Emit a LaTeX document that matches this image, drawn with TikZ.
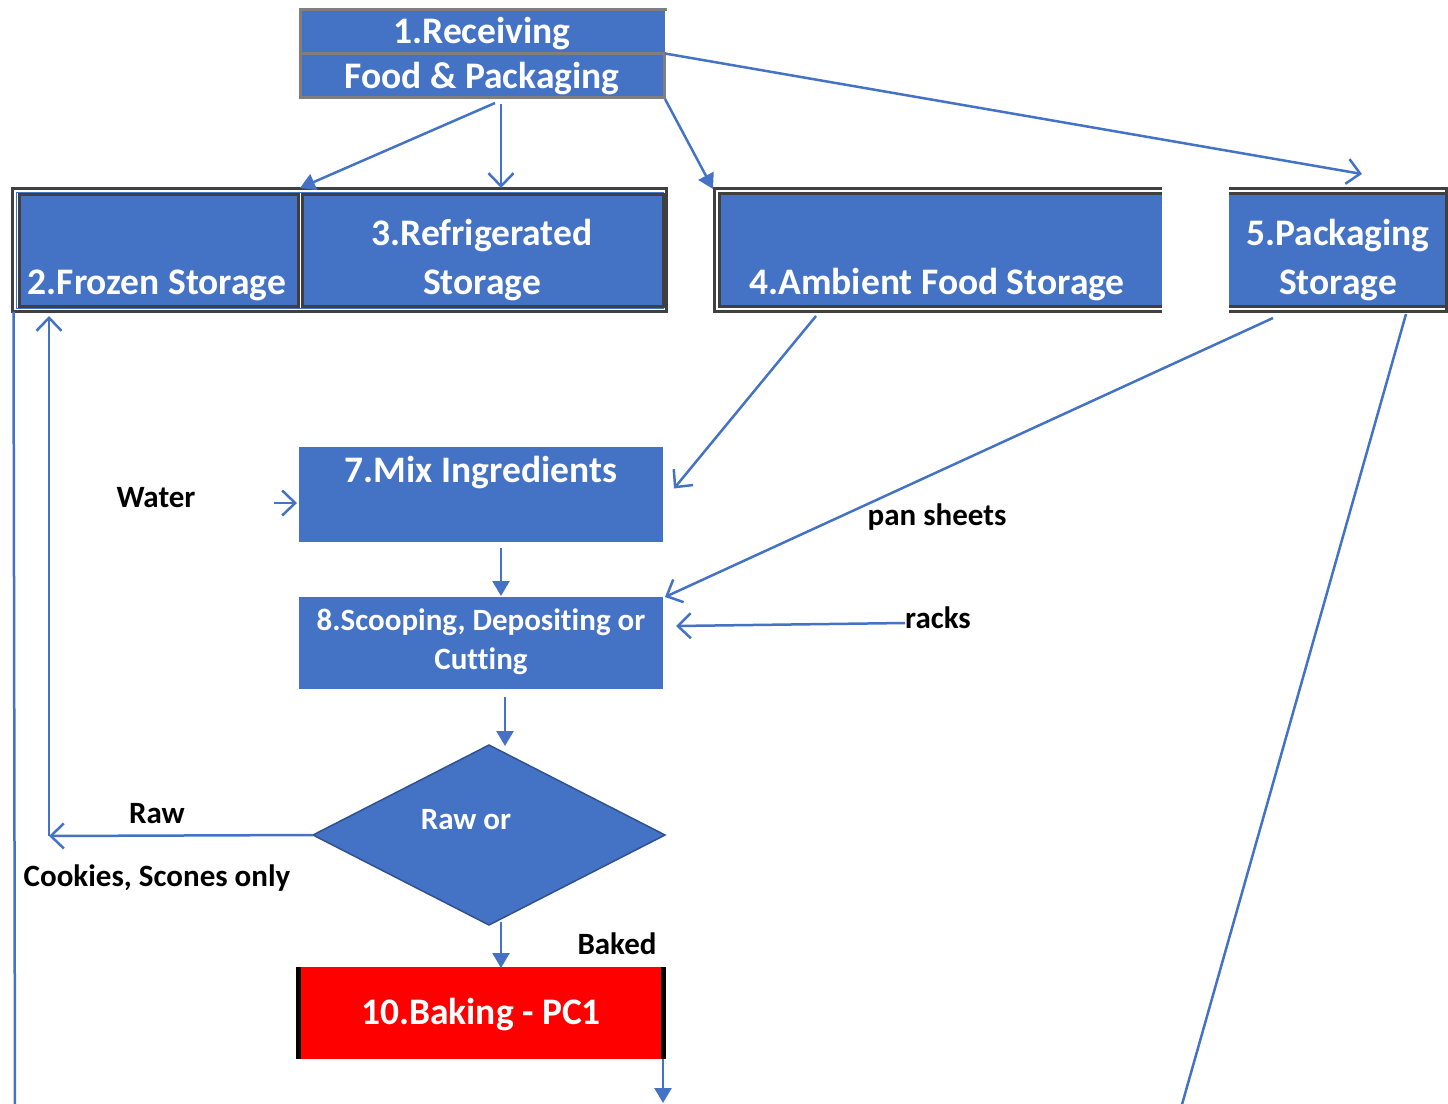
\documentclass[tikz,border=0pt]{standalone}
\usepackage{fontspec}
\setmainfont{Carlito}[Ligatures=NoCommon]
\usetikzlibrary{arrows.meta,shapes.geometric,calc}
\definecolor{blu}{HTML}{4472C4}
\definecolor{dkb}{HTML}{2F528F}
\definecolor{drk}{HTML}{404040}
\definecolor{gry}{HTML}{7F7F7F}
\begin{document}
\begin{tikzpicture}[x=1pt,y=-1pt,
  box/.style={rectangle, inner sep=0, outer sep=0, fill=blu},
  ttl/.style={text=white, font=\fontsize{37.5}{40}\selectfont\bfseries, anchor=base, inner sep=0},
  sub/.style={text=white, font=\fontsize{31}{34}\selectfont\bfseries, anchor=base, inner sep=0},
  lbl/.style={text=black, font=\fontsize{31}{34}\selectfont\bfseries, anchor=base, inner sep=0},
  flow/.style={draw=blu, line width=2.5pt},
  fillarrow/.style={flow, -{Triangle[length=15pt,width=17pt]}},
  openarrow/.style={flow, -{Straight Barb[length=13pt,width=25pt]}},
  darkline/.style={draw=drk, line width=3pt},
]
\useasboundingbox (0,0) rectangle (1448,1103);

% 1. receiving
\node[box, minimum width=366pt, minimum height=91pt] (rec) at (482,53.5) {};
\draw[gry, line width=3pt] (667,9.5) -- (300.5,9.5) -- (300.5,97.5) -- (664.5,97.5) -- (664.5,53);
\draw[gry, line width=3pt] (300.5,53) -- (666,53);
\node[ttl] (recA) at (482,43) {1.Receiving};
\node[ttl] (recB) at (482,88) {Food \& Packaging};

% 2./3. cold storage pair
\node[rectangle, darkline, fill=white, minimum width=654pt, minimum height=123pt, inner sep=0, outer sep=0] (cold) at (339.5,250) {};
\draw[blu, line width=1pt] (16,192) rectangle (663,308);
\node[box, darkline, minimum width=279pt, minimum height=112pt] (frz) at (158.5,250) {};
\node[box, darkline, minimum width=361pt, minimum height=112pt] (ref) at (482.5,250) {};
\node[ttl] (frzT) at (157,294) {2.Frozen Storage};
\node[ttl] (refA) at (482,245) {3.Refrigerated};
\node[ttl] (refB) at (482,294) {Storage};

% 4. ambient storage
\node[box, minimum width=444pt, minimum height=116pt] (amb) at (940,250) {};
\draw[darkline] (1162,188.5) -- (714.5,188.5) -- (714.5,311.5) -- (1162,311.5);
\draw[darkline] (1162,193.5) -- (719.5,193.5) -- (719.5,306.5) -- (1162,306.5);
\node[ttl] (ambT) at (937,294) {4.Ambient Food Storage};

% 5. packaging storage
\node[box, minimum width=218pt, minimum height=116pt] (pkg) at (1338,250) {};
\draw[darkline] (1229,188.5) -- (1446.5,188.5) -- (1446.5,311.5) -- (1229,311.5);
\draw[darkline] (1229,193.5) -- (1446.5,193.5);
\draw[darkline] (1229,306.5) -- (1446.5,306.5);
\node[ttl] (pkgA) at (1338,245) {5.Packaging};
\node[ttl] (pkgB) at (1338,294) {Storage};

% 7. mixing
\node[box, minimum width=364pt, minimum height=95pt] (mix) at (481,494.5) {};
\node[ttl] (mixT) at (481,482) {7.Mix Ingredients};

% 8. scooping
\node[box, minimum width=364pt, minimum height=92pt] (scp) at (481,643) {};
\node[sub] (scpA) at (481,630) {8.Scooping, Depositing or};
\node[sub] (scpB) at (481,669) {Cutting};

% decision
\node[diamond, fill=blu, draw=dkb, line width=1.5pt, minimum width=352pt, minimum height=180pt, inner sep=0, outer sep=0] (dia) at (489,835) {};
\node[sub] (diaT) at (466,829) {Raw or};

% 10. baking
\node[rectangle, fill=red, inner sep=0, outer sep=0, minimum width=370pt, minimum height=92pt] (bake) at (481,1013) {};
\fill[black] (bake.north west) rectangle ($(bake.south west)+(5,0)$);
\fill[black] ($(bake.north east)+(-5,0)$) rectangle (bake.south east);
\node[ttl] (bakeT) at (481,1024) {10.Baking - PC1};

% labels
\node[lbl] (water) at (156,507) {Water};
\node[lbl] (pan) at (937,525) {pan sheets};
\node[lbl] (racks) at (938,628) {racks};
\node[lbl] (raw) at (157,823) {Raw};
\node[lbl] (cook) at (157,886) {Cookies, Scones only};
\node[lbl] (baked) at (617,954) {Baked};

% loose ends
\coordinate (rawc) at (49,836);
\coordinate (leftend) at (15,1106);
\coordinate (pkgend) at (1181,1108);
\coordinate (bakeend) at (663,1103);

% connectors
\draw[fillarrow] ($(rec.south)+(13,4)$) -- ($(frz.north east)+(2,-6)$);
\draw[openarrow] ($(rec.south)+(19,5)$) -- ($(ref.north)+(18.5,-6)$);
\draw[fillarrow] (rec.south east) -- ($(amb.north west)+(-5,-3)$);
\draw[openarrow] (rec.east) -- ($(pkg.north)+(24,-18)$);
\draw[openarrow] ($(amb.south)+(-124,8)$) -- ($(mix.east)+(11,-6)$);
\draw[openarrow] ($(pkg.south)+(-65,10)$) -- ($(scp.north east)+(2,0)$);
\draw[flow] ($(pkg.south)+(68,6)$) -- (pkgend);
\draw[openarrow] ($(water.base east)+(78,-4)$) -- ($(mix.west)+(-2,8.5)$);
\draw[fillarrow] ($(mix.south)+(20,6)$) -- ($(scp.north)+(20,-1)$);
\draw[openarrow] ($(racks.base west)+(0,-5)$) -- ($(scp.east)+(13,-17)$);
\draw[fillarrow] ($(scp.south)+(24,8)$) -- ($(dia.north)+(16,1)$);
\draw[openarrow] (dia.west) -- (rawc);
\draw[openarrow] (rawc) -- ($(frz.south)+(-109.5,10)$);
\draw[flow] ($(cold.south west)+(1,0)$) -- (leftend);
\draw[fillarrow] ($(dia.south)+(12,-3)$) -- ($(bake.north)+(20,1)$);
\draw[fillarrow] ($(bake.south east)+(-3,0)$) -- (bakeend);
\end{tikzpicture}
\end{document}
